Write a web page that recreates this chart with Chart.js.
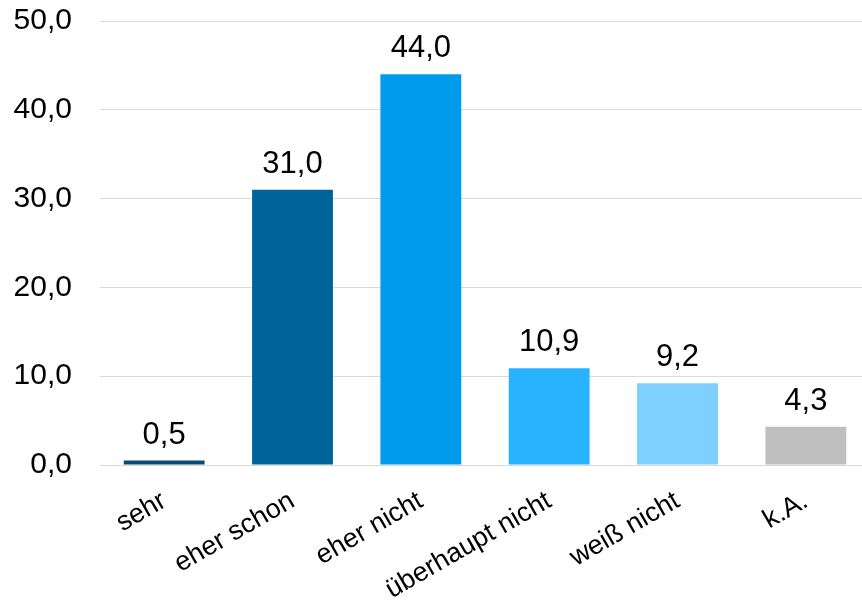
<!DOCTYPE html>
<html>
<head>
<meta charset="utf-8">
<script src="https://cdn.jsdelivr.net/npm/chart.js@4.4.0/dist/chart.umd.min.js"></script>
<style>
    html, body { margin: 0; padding: 0; background: #fff; overflow: hidden; }
    #wrap { width: 872px; height: 600px; }
</style>
</head>
<body>
<div id="wrap"><canvas id="chart" width="872" height="600"></canvas></div>
<script>
// Werte aus der Grafik
const categories = ['sehr', 'eher schon', 'eher nicht', 'überhaupt nicht', 'weiß nicht', 'k.A.'];
const values = [0.5, 31.0, 44.0, 10.9, 9.2, 4.3];
const barColors = ['#0b4a70', '#00649a', '#009ceb', '#29b3ff', '#7dd0ff', '#bfbfbf'];
const yTicks = [0, 10, 20, 30, 40, 50];

const FONT = 'Liberation Sans, Arial, sans-serif';

function fmt(v) {
    return v.toFixed(1).replace('.', ',');
}

// Datenbeschriftung über den Balken
const valueLabels = {
    id: 'valueLabels',
    afterDatasetsDraw(chart) {
        const ctx = chart.ctx;
        const meta = chart.getDatasetMeta(0);
        ctx.save();
        ctx.font = '31px ' + FONT;
        ctx.fillStyle = '#000';
        ctx.textAlign = 'center';
        ctx.textBaseline = 'alphabetic';
        meta.data.forEach((bar, i) => {
            ctx.fillText(fmt(values[i]), bar.x, bar.y - 17);
        });
        ctx.restore();
    }
};

new Chart(document.getElementById('chart').getContext('2d'), {
    type: 'bar',
    data: {
        labels: categories,
        datasets: [{
            data: values,
            backgroundColor: barColors,
            borderWidth: 0,
            categoryPercentage: 1,
            barPercentage: 0.63,
        }]
    },
    options: {
        responsive: false,
        animation: false,
        layout: { padding: { top: 21, right: 2, left: 0, bottom: 0 } },
        plugins: { legend: { display: false }, tooltip: { enabled: false } },
        scales: {
            y: {
                min: 0,
                max: 50,
                afterBuildTicks: s => { s.ticks = yTicks.map(v => ({ value: v })); },
                afterFit: s => {
                    s.width = 100;
                    // tick padding should not push the plot area down
                    s.paddingTop = 0;
                    s.paddingBottom = 0;
                },
                ticks: {
                    font: { family: FONT, size: 30 },
                    color: '#000',
                    padding: 28,
                    callback: v => fmt(v),
                },
                grid: { color: '#d9d9d9', lineWidth: 1, drawTicks: false },
                border: { display: false },
            },
            x: {
                afterFit: s => { s.height = 135; },
                ticks: {
                    font: { family: FONT, size: 27 },
                    color: '#000',
                    minRotation: 30,
                    maxRotation: 30,
                    padding: 20,
                },
                grid: { display: false, drawTicks: false },
                border: { display: false },
            }
        }
    },
    plugins: [valueLabels]
});
</script>
</body>
</html>
